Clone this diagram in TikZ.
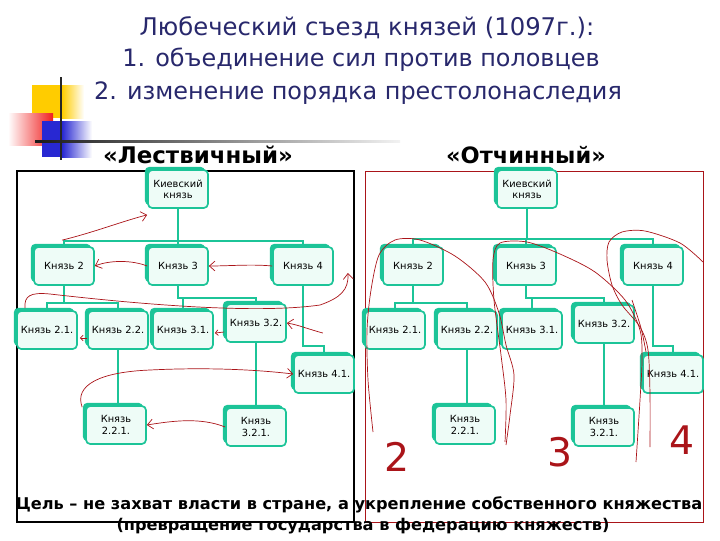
\documentclass[tikz,border=0pt]{standalone}
\usepackage{fontspec}
\setmainfont{DejaVu Sans}
\usepackage{xcolor}
\usetikzlibrary{arrows.meta,shadows,positioning,calc}
\definecolor{tealbox}{RGB}{28,196,152}
\definecolor{mintfill}{RGB}{238,252,247}
\definecolor{navytitle}{RGB}{40,40,108}
\definecolor{pen}{RGB}{170,20,25}
\definecolor{yellowsq}{RGB}{255,204,0}
\definecolor{redsq}{RGB}{240,30,30}
\definecolor{bluesq}{RGB}{40,40,210}

\begin{document}
\begin{tikzpicture}[x=0.025cm,y=-0.025cm,
	knyaz/.style={draw=tealbox, line width=1.2pt, rounded corners=3pt, fill=mintfill,
		minimum width=1.5cm, minimum height=0.95cm, align=center, inner sep=1pt,
		font=\fontsize{7}{8}\selectfont,
		general shadow={shadow xshift=-2.2pt, shadow yshift=2.2pt, fill=tealbox}},
	link/.style={draw=tealbox, line width=1.3pt},
	pencil/.style={draw=pen, line width=0.5pt},
	penarrow/.style={pencil, -{Straight Barb[length=4pt,width=7pt]}}]

		\useasboundingbox (0,0) rectangle (720,540);

		\fill[yellowsq] (32,85) rectangle (62,118);
		\shade[left color=yellowsq, right color=white] (62,85) rectangle (84,118);
		\shade[left color=white, right color=redsq] (8,113) rectangle (53,145);
		\fill[bluesq] (42,121) rectangle (62,157);
		\shade[left color=bluesq, right color=white] (62,121) rectangle (92,157);
		\shade[left color=black!90, middle color=black!70, right color=black!5] (35,140) rectangle (400,142.5);
		\draw[black!85, line width=1.3pt] (61,77) -- (61,160);

		\node[navytitle, font=\fontsize{17.3}{20}\selectfont] (t1) at (367,28) {Любеческий съезд князей (1097г.):};
		\node[navytitle, font=\fontsize{17}{20}\selectfont] (t2) at (361,60) {1. объединение сил против половцев};
		\node[navytitle, font=\fontsize{17}{20}\selectfont] (t3) at (358,93) {2. изменение порядка престолонаследия};

		\node[font=\bfseries\fontsize{16.3}{18}\selectfont] (s1) at (198,155) {«Лествичный»};
		\node[font=\bfseries\fontsize{16}{18}\selectfont] (s2) at (526,155) {«Отчинный»};

		\draw[black, line width=0.8pt] (17,171) rectangle (354,522);
		\draw[pen, line width=0.5pt] (365,171) rectangle (703,522);

		\node[knyaz] (L0) at (178,189) {Киевский\\князь};
		\node[knyaz] (L2) at (64,266) {Князь 2};
		\node[knyaz] (L3) at (178,266) {Князь 3};
		\node[knyaz] (L4) at (303,266) {Князь 4};
		\node[knyaz] (L21) at (47,330) {Князь 2.1.};
		\node[knyaz] (L22) at (118,330) {Князь 2.2.};
		\node[knyaz] (L31) at (183,330) {Князь 3.1.};
		\node[knyaz] (L32) at (256,323) {Князь 3.2.};
		\node[knyaz] (L41) at (324,374) {Князь 4.1.};
		\node[knyaz] (L221) at (116,425) {Князь\\2.2.1.};
		\node[knyaz] (L321) at (256,427) {Князь\\3.2.1.};

		\node[knyaz] (R0) at (527,189) {Киевский\\князь};
		\node[knyaz] (R2) at (413,266) {Князь 2};
		\node[knyaz] (R3) at (526,266) {Князь 3};
		\node[knyaz] (R4) at (653,266) {Князь 4};
		\node[knyaz] (R21) at (395,330) {Князь 2.1.};
		\node[knyaz] (R22) at (467,330) {Князь 2.2.};
		\node[knyaz] (R31) at (532,330) {Князь 3.1.};
		\node[knyaz] (R32) at (604,324) {Князь 3.2.};
		\node[knyaz] (R41) at (673,374) {Князь 4.1.};
		\node[knyaz] (R221) at (465,425) {Князь\\2.2.1.};
		\node[knyaz] (R321) at (604,427) {Князь\\3.2.1.};

		\draw[link] (L0.south) -- ++(0,32) -| (L2.north);
		\draw[link] (L0.south) -- ++(0,32) -| (L3.north);
		\draw[link] (L0.south) -- ++(0,32) -| (L4.north);
		\draw[link] (L2.south) -- ++(0,17) -| (L21.north);
		\draw[link] (L2.south) -- ++(0,17) -| (L22.north);
		\draw[link] (L3.south) -- ++(0,12) -| (L31.north);
		\draw[link] (L3.south) -- ++(0,12) -| (L32.north);
		\draw[link] (L4.south) -- ++(0,60) -| (L41.north);
		\draw[link] (L22.south) -- (L22.south |- L221.north);
		\draw[link] (L32.south) -- (L32.south |- L321.north);

		\draw[link] (R0.south) -- ++(0,30) -| (R2.north);
		\draw[link] (R0.south) -- ++(0,30) -| (R3.north);
		\draw[link] (R0.south) -- ++(0,30) -| (R4.north);
		\draw[link] (R2.south) -- ++(0,17) -| (R21.north);
		\draw[link] (R2.south) -- ++(0,17) -| (R22.north);
		\draw[link] (R3.south) -- ++(0,12) -| (R31.north);
		\draw[link] (R3.south) -- ++(0,12) -| (R32.north);
		\draw[link] (R4.south) -- ++(0,60) -| (R41.north);
		\draw[link] (R22.south) -- (R22.south |- R221.north);
		\draw[link] (R32.south) -- (R32.south |- R321.north);

		\draw[penarrow] ($(L2.north)+(-2,-6)$) .. controls (95,232) and (120,222) .. ($(L0.south west)+(0,6)$);
		\draw[penarrow] (L3.west) .. controls +(-15,-6) and +(15,-6) .. (L2.east);
		\draw[penarrow] (L4.west) .. controls +(-20,-2) and +(20,0) .. (L3.east);
		\draw[penarrow] ($(L21.north)+(-22,-2)$) .. controls (24,296) and (30,292) .. (50,294)
			.. controls (120,302) and (250,315) .. (320,305)
			.. controls (340,298) and (349,290) .. ($(L4.east)+(14,7)$);
		\draw[penarrow] ($(L32.east)+(36,10)$) .. controls +(-15,-4) and +(12,2) .. (L32.east);
		\draw[pencil, -{Straight Barb[length=2pt,width=4pt]}] ($(L32.west)+(-1,9)$) -- ($(L31.east)+(1,3)$);
		\draw[pencil, -{Straight Barb[length=2pt,width=4pt]}] ($(L22.west)+(0,8)$) -- ($(L21.east)+(2,8)$);
		\draw[penarrow] ($(L221.north west)+(-3,2)$) .. controls (74,385) and (100,372) .. (150,370)
			.. controls (210,367) and (260,370) .. (L41.west);
		\draw[penarrow] (L321.west) .. controls +(-25,-10) and +(25,-4) .. (L221.east);

		\draw[pencil] plot[smooth] coordinates {(373,432) (368,380) (367,330) (371,290) (379,255) (395,240) (420,240) (455,256) (485,282) (499,313) (506,345) (514,375) (510,415) (506,445)};
		\draw[pencil] plot[smooth] coordinates {(505,442) (506,400) (501,355) (494,300) (493,260) (500,243) (527,242) (560,254) (595,272) (625,300) (640,330) (642,360) (640,400) (636,462)};
		\draw[pencil] plot[smooth] coordinates {(650,447) (650,395) (648,350) (640,327) (622,305) (612,285) (607,260) (609,242) (622,232) (645,231) (680,243) (703,262)};
		\draw[pencil] plot[smooth] coordinates {(632,300) (641,328) (646,352)};

		\node[text=pen, font=\fontsize{28}{28}\selectfont] (n2) at (397,457) {2};
		\node[text=pen, font=\fontsize{28}{28}\selectfont] (n3) at (560,452) {3};
		\node[text=pen, font=\fontsize{28}{28}\selectfont] (n4) at (682,440) {4};

		\node[font=\bfseries\fontsize{11.5}{13}\selectfont] (g1) at (359,505) {Цель – не захват власти в стране, а укрепление собственного княжества};
		\node[font=\bfseries\fontsize{11.5}{13}\selectfont] (g2) at (363,526) {(превращение государства в федерацию княжеств)};
	\end{tikzpicture}
\end{document}
